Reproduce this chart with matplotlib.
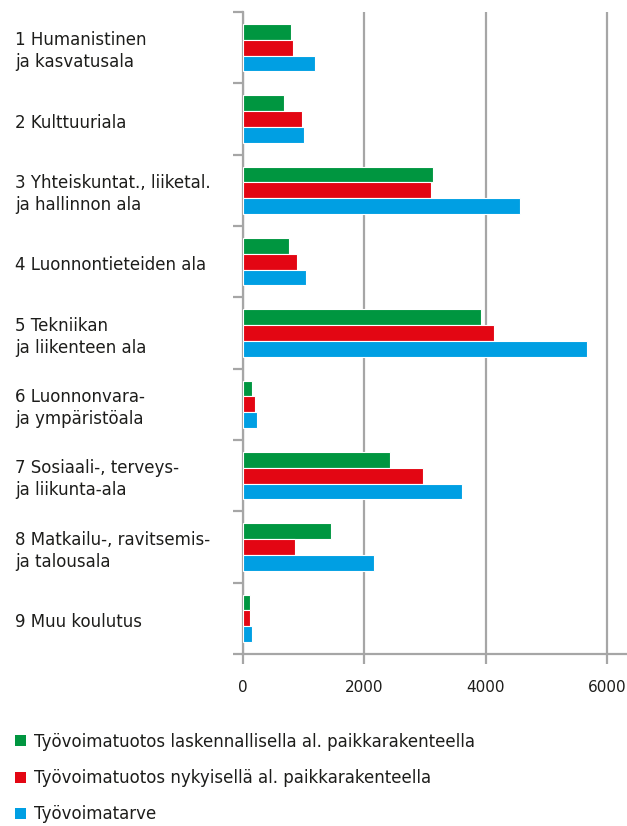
import matplotlib
matplotlib.use("Agg")
import matplotlib.pyplot as plt
from matplotlib.patches import Patch
from matplotlib.transforms import blended_transform_factory

plt.rcParams["font.family"] = ["DejaVu Sans"]

categories = [
    "1 Humanistinen\nja kasvatusala",
    "2 Kulttuuriala",
    "3 Yhteiskuntat., liiketal.\nja hallinnon ala",
    "4 Luonnontieteiden ala",
    "5 Tekniikan\nja liikenteen ala",
    "6 Luonnonvara-\nja ympäristöala",
    "7 Sosiaali-, terveys-\nja liikunta-ala",
    "8 Matkailu-, ravitsemis-\nja talousala",
    "9 Muu koulutus",
]
series_names = [
    "Työvoimatuotos laskennallisella al. paikkarakenteella",
    "Työvoimatuotos nykyisellä al. paikkarakenteella",
    "Työvoimatarve",
]
laskennallinen = [790, 680, 3130, 760, 3920, 150, 2420, 1450, 110]
nykyinen = [820, 970, 3100, 890, 4130, 200, 2960, 860, 110]
tarve = [1180, 1000, 4560, 1040, 5670, 230, 3610, 2160, 150]
xticks = [0, 2000, 4000, 6000]

colors = ["#009640", "#e30613", "#009fe3"]
grey = "#a6a6a6"
text_color = "#1d1d1b"
fs = 12
tick_fs = 11

W, H = 627, 826
fig = plt.figure(figsize=(W / 100, H / 100), dpi=100)
ax = fig.add_axes([243 / W, 1 - 654 / H, 1 - 243 / W, (654 - 12) / H])

bar_h = 0.22
offsets = [-bar_h, 0.0, bar_h]
for vals, off, col, name in zip([laskennallinen, nykyinen, tarve], offsets, colors, series_names):
    ys = [i + off for i in range(len(categories))]
    ax.barh(ys, vals, height=bar_h, color=col, edgecolor="white", linewidth=0.8,
            label=name, zorder=3)

ax.set_ylim(len(categories) - 0.5, -0.5)
ax.set_xlim(0, 6330)

ax.set_xticks(xticks)
ax.set_xticklabels([str(t) for t in xticks], fontsize=tick_fs, color=text_color)
ax.grid(axis="x", color=grey, linewidth=1.6, zorder=1)
ax.set_axisbelow(True)

ax.set_yticks([i - 0.5 for i in range(len(categories) + 1)])
ax.set_yticklabels([])
ax.tick_params(axis="y", length=7.5, width=1.6, color=grey, direction="out")
ax.tick_params(axis="x", length=7.5, width=1.6, color=grey, direction="out", pad=11)

for side in ["top", "right"]:
    ax.spines[side].set_visible(False)
for side in ["left", "bottom"]:
    ax.spines[side].set_color(grey)
    ax.spines[side].set_linewidth(1.6)

trans = blended_transform_factory(fig.transFigure, ax.transData)
for i, lab in enumerate(categories):
    ax.text(15 / W, i + 0.05, lab, transform=trans, ha="left", va="center",
            fontsize=fs, color=text_color, linespacing=1.28)

handles = [Patch(facecolor=c, edgecolor="none") for c in colors]
fig.legend(handles, series_names, loc="upper left",
           bbox_to_anchor=(8 / W, 1 - 726 / H), frameon=False, fontsize=fs,
           handlelength=0.65, handleheight=0.65, handletextpad=0.5,
           labelspacing=1.1, labelcolor=text_color, borderaxespad=0)

fig.savefig("out.png", dpi=100)
